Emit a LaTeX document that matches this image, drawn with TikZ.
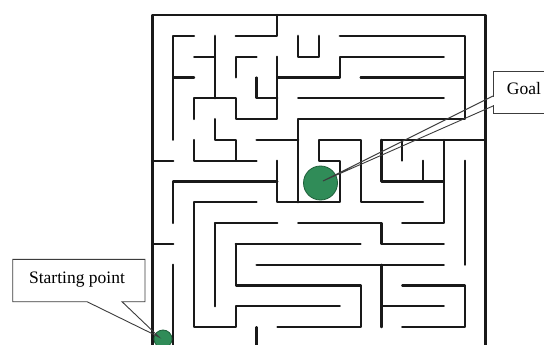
\documentclass[tikz,border=0pt]{standalone}
\usepackage{fontspec}
\setmainfont{Liberation Serif}
\definecolor{dotgreen}{RGB}{48,140,88}
\definecolor{dotedge}{RGB}{30,95,58}
\definecolor{wallc}{RGB}{25,25,25}
\definecolor{callc}{RGB}{60,60,60}
\tikzset{
  wall/.style={draw=wallc, line width=2.2pt, line cap=round, line join=round},
  callout/.style={draw=callc, line width=0.9pt, line join=miter},
  dot/.style={circle, fill=dotgreen, draw=dotedge, line width=0.8pt, inner sep=0pt},
  lbl/.style={font=\fontsize{17.5}{20}\selectfont, anchor=base, inner sep=0pt}
}
\begin{document}
\begin{tikzpicture}[x=1pt,y=-1pt]
\useasboundingbox (0,0) rectangle (544,345);
\clip (0,0) rectangle (544,345);
\fill[white] (0,0) rectangle (544,345);
\begin{scope}[xshift=152.5pt, yshift=-15pt, x=20.81pt, y=-20.81pt]
  % outer frame
  \draw[wall] (0,16.5) -- (0,0) -- (16,0) -- (16,16.5);
  % top area
  \draw[wall] (4,1) -- (6,1) -- (6,0);
  \draw[wall] (2,1) -- (1,1) -- (1,6);
  \draw[wall] (3,1) -- (3,4);
  \draw[wall] (2,2) -- (3,2);
  \draw[wall] (1,3) -- (2,3);
  \draw[wall] (5,2) -- (4,2) -- (4,3);
  \draw[wall] (5,3) -- (5,4) -- (6,4);
  \draw[wall] (2,5) -- (2,4) -- (4,4) -- (4,5) -- (6,5) -- (6,2);
  \draw[wall] (6,3) -- (9,3) -- (9,2) -- (14,2);
  \draw[wall] (7,1) -- (7,2) -- (8,2) -- (8,1);
  \draw[wall] (9,1) -- (15,1) -- (15,5) -- (7,5) -- (7,9);
  \draw[wall] (10,3) -- (15,3);
  \draw[wall] (7,4) -- (14,4);
  % middle
  \draw[wall] (0,7) -- (1,7);
  \draw[wall] (2,6) -- (2,7) -- (5,7);
  \draw[wall] (3,5) -- (3,6) -- (4,6) -- (4,7);
  \draw[wall] (5,6) -- (7,6);
  \draw[wall] (1,10) -- (1,8) -- (6,8);
  \draw[wall] (6,7) -- (6,9) -- (9,9) -- (9,7) -- (8,7) -- (8,6) -- (10,6) -- (10,9) -- (13,9);
  \draw[wall] (11,6) -- (16,6);
  \draw[wall] (11,6) -- (11,8) -- (14,8);
  \draw[wall] (12,6) -- (12,7);
  \draw[wall] (13,7) -- (13,8);
  \draw[wall] (14,6) -- (14,10) -- (12,10);
  \draw[wall] (15,7) -- (15,12);
  % lower area
  \draw[wall] (2,9) -- (5,9);
  \draw[wall] (2,9) -- (2,15) -- (4,15) -- (4,14) -- (9,14);
  \draw[wall] (3,10) -- (6,10);
  \draw[wall] (3,10) -- (3,14);
  \draw[wall] (7,10) -- (11,10) -- (11,11) -- (14,11);
  \draw[wall] (0,11) -- (1,11);
  \draw[wall] (1,12) -- (1,16.5);
  \draw[wall] (4,11) -- (10,11);
  \draw[wall] (4,11) -- (4,13) -- (10,13) -- (10,15) -- (6,15);
  \draw[wall] (5,12) -- (14,12);
  \draw[wall] (11,12) -- (11,15);
  \draw[wall] (11,14) -- (14,14);
  \draw[wall] (12,13) -- (15,13) -- (15,15) -- (12,15);
  \draw[wall] (5,15) -- (5,16.5);
\end{scope}
% markers
\node[dot, minimum size=34pt] (goaldot) at (320.5,183) {};
\node[dot, minimum size=18pt] (startdot) at (163,339) {};
\coordinate (goaltip) at (323,181);
\coordinate (starttip) at (159,337);
% goal callout
\draw[callout, fill=white] (560,71) -- (493,71) -- (493,113) -- (560,113);
\draw[callout] (493,96) -- (goaltip) -- (493,106);
\draw[white, line width=1pt] (493,96.6) -- (493,105.4);
\node[lbl] (goallbl) at (524,95) {Goal};
% start callout
\fill[white] (12.7,259.3) rectangle (145,301.7);
\draw[callout] (87,301.7) -- (12.7,301.7) -- (12.7,259.3) -- (145,259.3) -- (145,301.7) -- (122,301.7) -- (starttip) -- cycle;
\node[lbl] (startlbl) at (77,283.5) {Starting point};
\end{tikzpicture}
\end{document}
